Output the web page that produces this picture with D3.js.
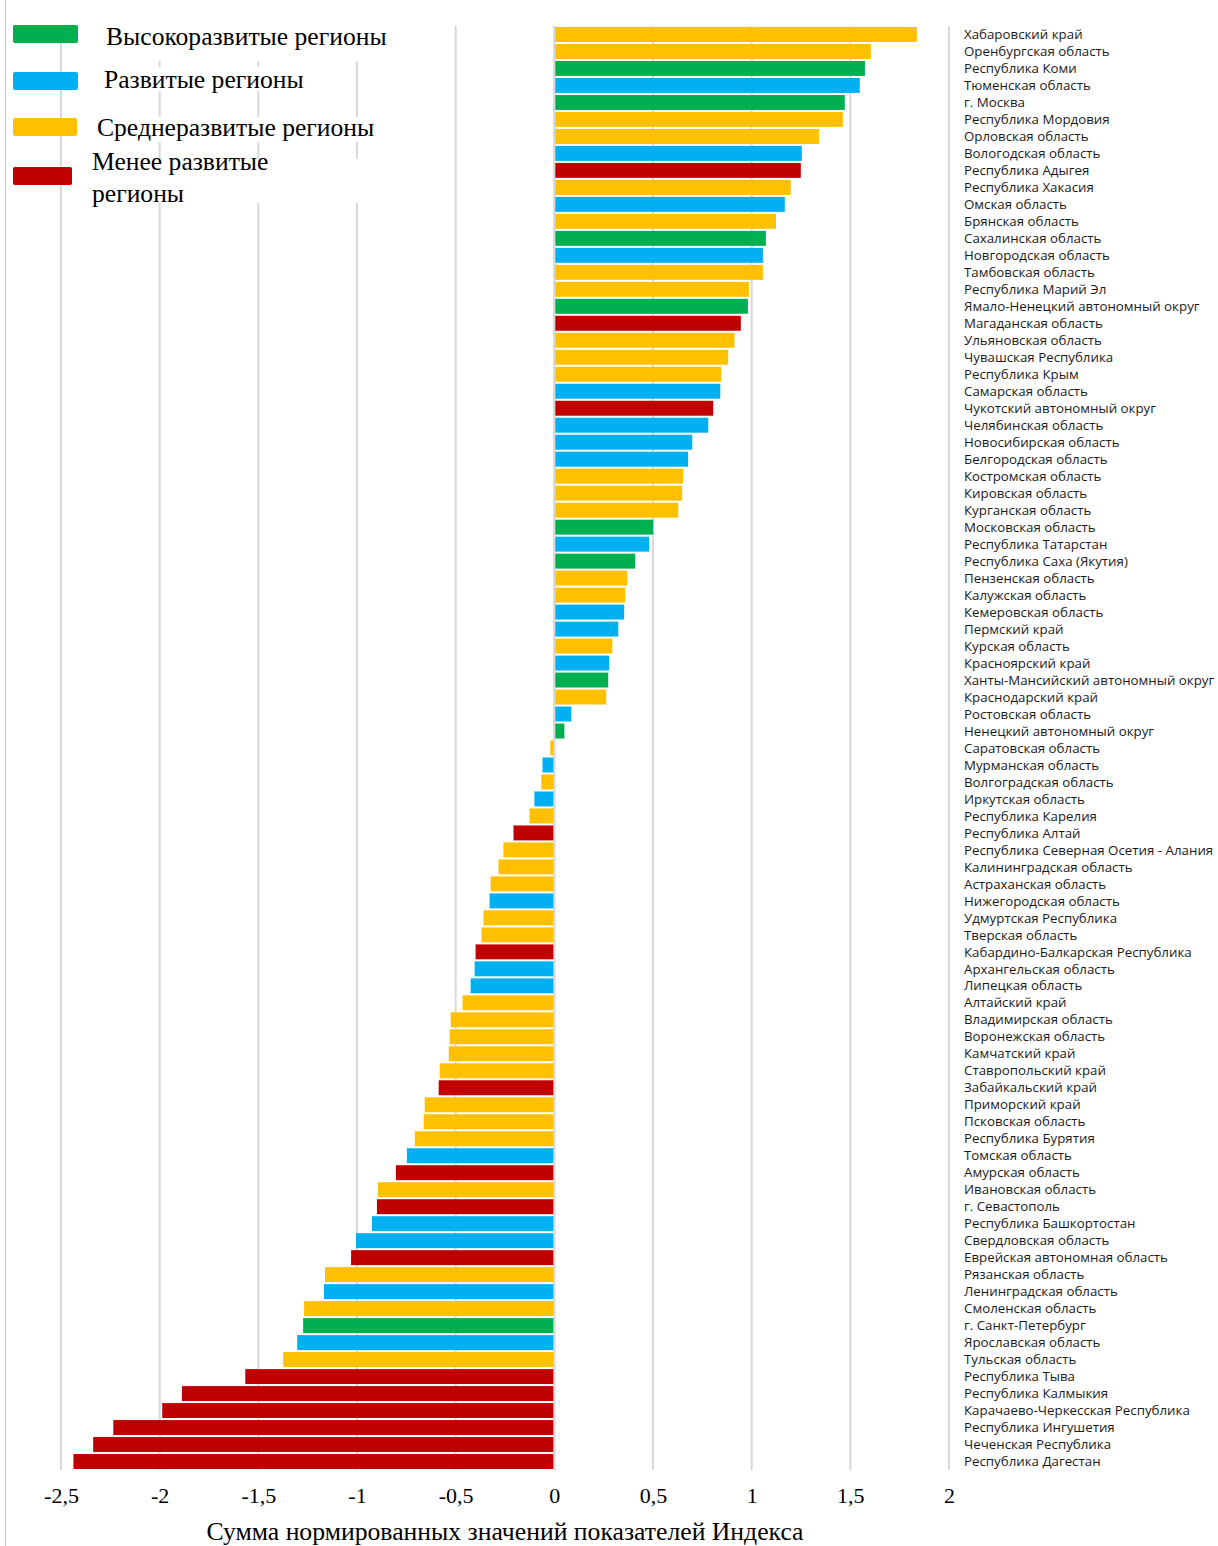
<!DOCTYPE html>
<html lang="ru">
<head>
    <meta charset="UTF-8">
    <title>Сумма нормированных значений показателей Индекса</title>
    <script src="https://d3js.org/d3.v7.min.js"></script>
    <style>
        body { margin: 0; background: #fff; }
        svg { display: block; }
    </style>
</head>
<body>
<div id="chart"></div>
<script>
// regions, top to bottom
const regions = [
    "Хабаровский край", "Оренбургская область", "Республика Коми", "Тюменская область", "г. Москва",
    "Республика Мордовия", "Орловская область", "Вологодская область", "Республика Адыгея", "Республика Хакасия",
    "Омская область", "Брянская область", "Сахалинская область", "Новгородская область", "Тамбовская область",
    "Республика Марий Эл", "Ямало-Ненецкий автономный округ", "Магаданская область", "Ульяновская область", "Чувашская Республика",
    "Республика Крым", "Самарская область", "Чукотский автономный округ", "Челябинская область", "Новосибирская область",
    "Белгородская область", "Костромская область", "Кировская область", "Курганская область", "Московская область",
    "Республика Татарстан", "Республика Саха (Якутия)", "Пензенская область", "Калужская область", "Кемеровская область",
    "Пермский край", "Курская область", "Красноярский край", "Ханты-Мансийский автономный округ", "Краснодарский край",
    "Ростовская область", "Ненецкий автономный округ", "Саратовская область", "Мурманская область", "Волгоградская область",
    "Иркутская область", "Республика Карелия", "Республика Алтай", "Республика Северная Осетия - Алания", "Калининградская область",
    "Астраханская область", "Нижегородская область", "Удмуртская Республика", "Тверская область", "Кабардино-Балкарская Республика",
    "Архангельская область", "Липецкая область", "Алтайский край", "Владимирская область", "Воронежская область",
    "Камчатский край", "Ставропольский край", "Забайкальский край", "Приморский край", "Псковская область",
    "Республика Бурятия", "Томская область", "Амурская область", "Ивановская область", "г. Севастополь",
    "Республика Башкортостан", "Свердловская область", "Еврейская автономная область", "Рязанская область", "Ленинградская область",
    "Смоленская область", "г. Санкт-Петербург", "Ярославская область", "Тульская область", "Республика Тыва",
    "Республика Калмыкия", "Карачаево-Черкесская Республика", "Республика Ингушетия", "Чеченская Республика", "Республика Дагестан"
];

// index values
const values = [
    1.837, 1.604, 1.574, 1.548, 1.472, 1.462, 1.341, 1.254, 1.249, 1.198,
    1.168, 1.123, 1.072, 1.057, 1.057, 0.986, 0.981, 0.945, 0.913, 0.881,
    0.846, 0.841, 0.805, 0.78, 0.699, 0.678, 0.653, 0.648, 0.628, 0.501,
    0.481, 0.41, 0.37, 0.359, 0.354, 0.324, 0.294, 0.278, 0.273, 0.263,
    0.086, 0.051, -0.02, -0.06, -0.066, -0.101, -0.126, -0.207, -0.258, -0.283,
    -0.323, -0.328, -0.359, -0.369, -0.399, -0.404, -0.424, -0.465, -0.525, -0.53,
    -0.535, -0.581, -0.586, -0.657, -0.662, -0.707, -0.747, -0.803, -0.894, -0.899,
    -0.924, -1.005, -1.03, -1.162, -1.167, -1.268, -1.273, -1.303, -1.374, -1.566,
    -1.887, -1.987, -2.235, -2.337, -2.437
];

// development group of each region: h - high, d - developed, m - middle, l - less
const groups = [
    "m", "m", "h", "d", "h", "m", "m", "d", "l", "m",
    "d", "m", "h", "d", "m", "m", "h", "l", "m", "m",
    "m", "d", "l", "d", "d", "d", "m", "m", "m", "h",
    "d", "h", "m", "m", "d", "d", "m", "d", "h", "m",
    "d", "h", "m", "d", "m", "d", "m", "l", "m", "m",
    "m", "d", "m", "m", "l", "d", "d", "m", "m", "m",
    "m", "m", "l", "m", "m", "m", "d", "l", "m", "l",
    "d", "d", "l", "m", "d", "m", "h", "d", "m", "l",
    "l", "l", "l", "l", "l"
];

const groupKeys = ["h", "d", "m", "l"];
const groupNames = [["Высокоразвитые регионы"], ["Развитые регионы"], ["Среднеразвитые регионы"], ["Менее развитые", "регионы"]];
const groupColors = ["#00B050", "#00B0F0", "#FFC000", "#C00000"];

const xTicks = [-2.5, -2, -1.5, -1, -0.5, 0, 0.5, 1, 1.5, 2];
const axisTitle = "Сумма нормированных значений показателей Индекса";

const width = 1218, height = 1546;
const serif = "'Liberation Serif', 'Times New Roman', serif";
const svg = d3.select("#chart").append("svg")
    .attr("width", width)
    .attr("height", height);

const data = regions.map((r, i) => ({ region: r, value: values[i], group: groups[i] }));

const x = d3.scaleLinear().domain([-2.5, 2]).range([61, 949]);
const y = d3.scaleBand().domain(regions).range([26, 1470]).paddingInner(0.12).paddingOuter(0.06);
const color = d3.scaleOrdinal().domain(groupKeys).range(groupColors);

// thin frame line on the left
svg.append("line")
    .attr("x1", 5.5).attr("x2", 5.5)
    .attr("y1", 0).attr("y2", height)
    .attr("stroke", "#F2C94C")
    .attr("stroke-width", 1);

// vertical gridlines
svg.append("g")
    .selectAll("line")
    .data(xTicks)
    .join("line")
    .attr("x1", d => x(d)).attr("x2", d => x(d))
    .attr("y1", 26).attr("y2", 1470)
    .attr("stroke", "#D9D9D9")
    .attr("stroke-width", 2);

// bars
svg.append("g")
    .selectAll("rect")
    .data(data)
    .join("rect")
    .attr("x", d => x(Math.min(0, d.value)))
    .attr("y", d => y(d.region))
    .attr("width", d => Math.abs(x(d.value) - x(0)))
    .attr("height", y.bandwidth())
    .attr("fill", d => color(d.group));

// zero line sits on top of the bars
svg.append("line")
    .attr("x1", x(0)).attr("x2", x(0))
    .attr("y1", 26).attr("y2", 1470)
    .attr("stroke", "#D9D9D9")
    .attr("stroke-width", 2);

// region labels on the right
svg.append("g")
    .selectAll("text")
    .data(data)
    .join("text")
    .attr("x", 964)
    .attr("y", d => y(d.region) + y.bandwidth() / 2)
    .attr("dy", "0.35em")
    .attr("font-family", "'Open Sans', sans-serif")
    .attr("font-size", 13.3)
    .attr("fill", "#1a1a1a")
    .text(d => d.region);

// x axis (labels only, no domain line)
const fmt = d => String(d).replace(".", ",");
const xAxis = svg.append("g")
    .attr("transform", "translate(0,1470)")
    .call(d3.axisBottom(x).tickValues(xTicks).tickFormat(fmt).tickSize(0).tickPadding(17));
xAxis.select(".domain").remove();
xAxis.selectAll("text")
    .attr("font-family", serif)
    .attr("font-size", 22)
    .attr("fill", "#000");

svg.append("text")
    .attr("x", 505)
    .attr("y", 1540)
    .attr("text-anchor", "middle")
    .attr("font-family", serif)
    .attr("font-size", 25.7)
    .attr("fill", "#000")
    .text(axisTitle);

// legend
const legendRows = [
    { swatch: [13, 25, 65], text: 106, base: [45], box: [0, 61] },
    { swatch: [13, 72, 65], text: 104, base: [88], box: [67, 91] },
    { swatch: [13, 118, 64], text: 97, base: [136], box: [117, 142] },
    { swatch: [13, 167, 59], text: 92, base: [170, 202], box: [159, 203] }
];
const legend = svg.append("g");
legendRows.forEach((row, i) => {
    const g = legend.append("g");
    const bg = g.append("rect").attr("fill", "#fff");
    let maxW = 0;
    groupNames[i].forEach((line, j) => {
        const t = g.append("text")
            .attr("x", row.text)
            .attr("y", row.base[j])
            .attr("font-family", serif)
            .attr("font-size", 25.6)
            .attr("fill", "#000")
            .text(line);
        maxW = Math.max(maxW, t.node().getComputedTextLength());
    });
    if (i === 3) maxW = 290;
    bg.attr("x", row.text - 6)
        .attr("y", row.box[0])
        .attr("width", maxW + 12)
        .attr("height", row.box[1] - row.box[0]);
    g.append("rect")
        .attr("x", row.swatch[0])
        .attr("y", row.swatch[1])
        .attr("width", row.swatch[2])
        .attr("height", 18)
        .attr("rx", 2)
        .attr("fill", groupColors[i]);
});
</script>
</body>
</html>
